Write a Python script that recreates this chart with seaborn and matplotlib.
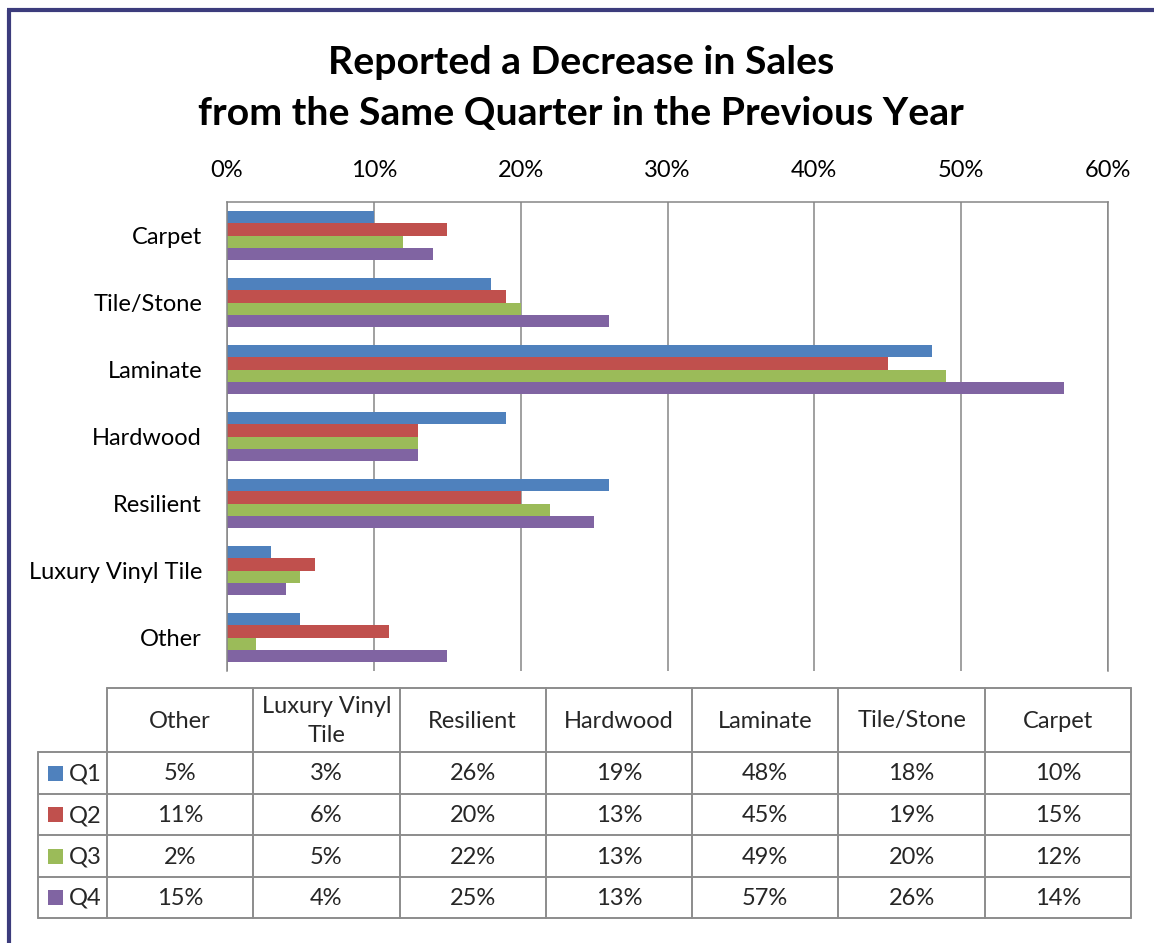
import matplotlib
matplotlib.use('Agg')
import matplotlib.pyplot as plt
import seaborn as sns
import pandas as pd
from matplotlib.patches import Rectangle

# Flooring categories in data-table order (left to right)
categories = ['Other', 'Luxury Vinyl Tile', 'Resilient', 'Hardwood', 'Laminate', 'Tile/Stone', 'Carpet']
header_labels = ['Other', 'Luxury Vinyl\nTile', 'Resilient', 'Hardwood', 'Laminate', 'Tile/Stone', 'Carpet']
quarters = ['Q1', 'Q2', 'Q3', 'Q4']

# Share of respondents reporting a decrease (%)
q1 = [5, 3, 26, 19, 48, 18, 10]
q2 = [11, 6, 20, 13, 45, 19, 15]
q3 = [2, 5, 22, 13, 49, 20, 12]
q4 = [15, 4, 25, 13, 57, 26, 14]

colors = ['#4F81BD', '#C0504D', '#9BBB59', '#8064A2']
x_ticks = [0, 10, 20, 30, 40, 50, 60]

series = [q1, q2, q3, q4]
rows = []
for q, vals in zip(quarters, series):
    for c, v in zip(categories, vals):
        rows.append({'Category': c, 'Quarter': q, 'Value': v})
df = pd.DataFrame(rows)
bar_order = categories[::-1]

sns.set_theme(style='white')
plt.rcParams['font.family'] = ['Lato', 'DejaVu Sans']

W, H = 1154, 943
fig = plt.figure(figsize=(W / 100, H / 100), dpi=100)
fig.patch.set_facecolor('white')

# Overlay in pixel coordinates for frame, title and data table
ov = fig.add_axes([0, 0, 1, 1])
ov.set_xlim(0, W)
ov.set_ylim(H, 0)
ov.axis('off')
ov.patch.set_alpha(0)

fs = 17
grid_col = '#868686'
ax = fig.add_axes([227 / W, 1 - 671 / H, (1108 - 227) / W, (671 - 202) / H])
sns.barplot(data=df, x='Value', y='Category', hue='Quarter', order=bar_order,
            hue_order=quarters, palette=colors, orient='h', width=0.73,
            saturation=1, linewidth=0, legend=False, ax=ax)
ax.set_xlim(0, 60)
ax.set_ylim(6.5, -0.5)
ax.xaxis.tick_top()
ax.set_xticks(x_ticks)
ax.set_xticklabels([f'{t}%' for t in x_ticks])
ax.set_xlabel('')
ax.set_ylabel('')
ax.grid(axis='x', color=grid_col, lw=1.1)
ax.grid(axis='y', visible=False)
ax.set_axisbelow(True)
for side in ['top', 'left', 'right']:
    ax.spines[side].set_visible(True)
    ax.spines[side].set_color(grid_col)
    ax.spines[side].set_linewidth(1.1)
ax.spines['bottom'].set_visible(False)
ax.tick_params(axis='x', length=0, pad=15, labelsize=fs, colors='black')
ax.tick_params(axis='y', length=0, pad=18, labelsize=fs, colors='black')

# Outer frame
frame_col = '#3C3C7C'
ov.plot([9, 9], [H + 5, 10], color=frame_col, lw=3, solid_capstyle='butt')
ov.plot([7, W + 5], [10, 10], color=frame_col, lw=3, solid_capstyle='butt')

# Title
ov.text(581, 62, 'Reported a Decrease in Sales', ha='center', va='center',
        fontsize=28.3, fontweight='bold', color='black')
ov.text(581, 113, 'from the Same Quarter in the Previous Year', ha='center', va='center',
        fontsize=28.3, fontweight='bold', color='black')

# Data table
line_col = '#8C8C8C'
tlw = 1.4
x0, col_w = 107, (1131 - 107) / 7
col_x = [x0 + i * col_w for i in range(8)]
left_x = 38
header_top, header_bot = 688, 752
row_y = [752, 794, 835, 877, 918]

ov.plot([col_x[0], col_x[-1]], [header_top, header_top], color=line_col, lw=tlw)
for y in row_y:
    ov.plot([left_x, col_x[-1]], [y, y], color=line_col, lw=tlw)
for x in col_x:
    ov.plot([x, x], [header_top, row_y[-1]], color=line_col, lw=tlw)
ov.plot([left_x, left_x], [row_y[0], row_y[-1]], color=line_col, lw=tlw)

for i, lab in enumerate(header_labels):
    ov.text((col_x[i] + col_x[i + 1]) / 2, (header_top + header_bot) / 2 + 1, lab,
            ha='center', va='center', fontsize=fs, linespacing=1.45)

for r, (q, vals, colr) in enumerate(zip(quarters, series, colors)):
    yc = (row_y[r] + row_y[r + 1]) / 2
    ov.add_patch(Rectangle((48, yc - 7.5), 15, 15, facecolor=colr, edgecolor='none'))
    ov.text(69, yc + 1, q, ha='left', va='center', fontsize=fs)
    for i, v in enumerate(vals):
        ov.text((col_x[i] + col_x[i + 1]) / 2, yc + 1, f'{v}%', ha='center', va='center', fontsize=fs)

fig.savefig('out.png', dpi=100, facecolor='white')
